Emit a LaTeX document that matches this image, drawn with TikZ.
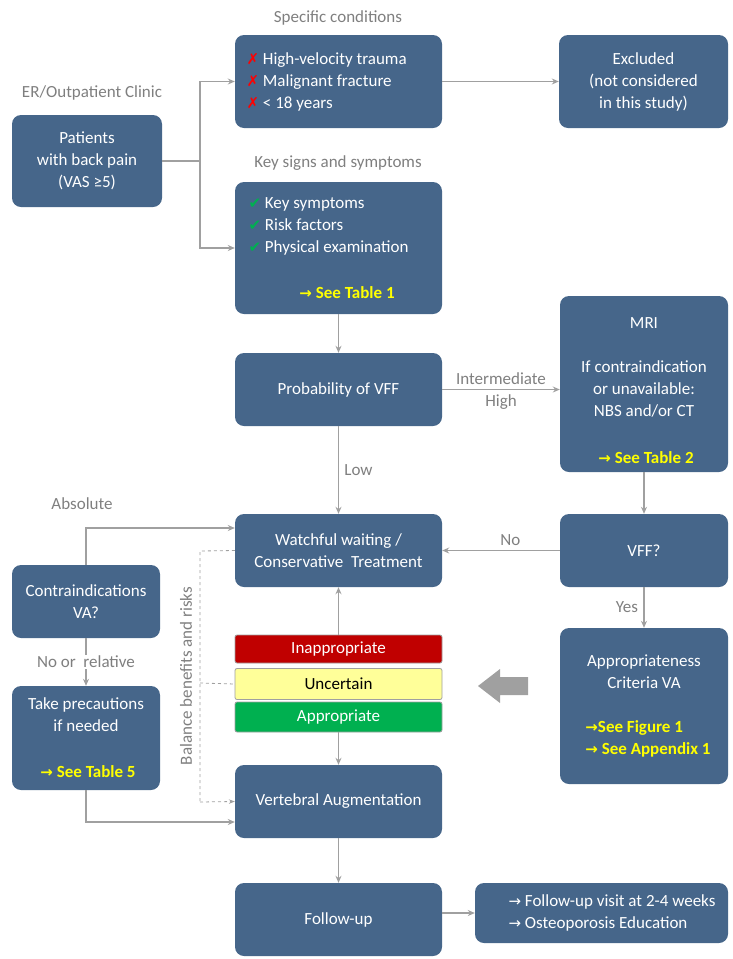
\documentclass[tikz,border=0pt]{standalone}
\usepackage{fontspec}
\setmainfont{Carlito}
\newfontfamily\sym{DejaVu Sans}
\usetikzlibrary{arrows.meta}
\definecolor{bx}{HTML}{46668A}
\definecolor{lc}{HTML}{A0A0A0}
\definecolor{hd}{HTML}{7F7F7F}
\definecolor{yl}{HTML}{FFFF00}
\definecolor{rd}{HTML}{C00000}
\definecolor{gn}{HTML}{00B050}
\definecolor{uy}{HTML}{FFFF99}
\newcommand{\xm}{{\sym\fontsize{15}{15}\selectfont\color{red}✗}}
\newcommand{\cm}{{\sym\fontsize{15}{15}\selectfont\color{gn}✔}}
\newcommand{\ya}{{\sym\fontsize{15}{15}\selectfont\color{yl}→}}
\newcommand{\wa}{{\sym\fontsize{15}{15}\selectfont →}}
\begin{document}
\begin{tikzpicture}[x=1pt,y=-1pt,
  fs/.style={font=\fontsize{17}{22}\selectfont},
  yt/.style={text=yl,font=\bfseries\fontsize{17}{22}\selectfont},
  box/.style={fs,draw=none,fill=bx,rounded corners=9pt,text=white,align=center,inner sep=0pt},
  hds/.style={fs,text=hd},
  lb/.style={fs,text=hd},
  ar/.style={draw=lc,line width=1.2pt,-{Stealth[length=7pt,width=6pt]}},
  pl/.style={draw=lc,line width=1.2pt},
  bar/.style={fs,draw=lc,line width=0.8pt,rounded corners=2pt,minimum width=207pt,inner sep=0pt}]
\useasboundingbox (0,0) rectangle (732,959);
\node[box,minimum width=150,minimum height=92] (pat) at (87,161) {Patients\\with back pain\\(VAS ≥5)};
\node[box,minimum width=207,minimum height=93] (spec) at (338.5,81.5) {};
\node[fs,white,align=left,anchor=west] (spect) at (243,81.5) {\xm\ High-velocity trauma\\\xm\ Malignant fracture\\\xm\ {<} 18 years};
\node[box,minimum width=169,minimum height=93] (exc) at (643.5,81.5) {Excluded\\(not considered\\in this study)};
\node[box,minimum width=207,minimum height=132] (key) at (338.5,248) {};
\node[fs,white,align=left,anchor=west] (keyt) at (245,226) {\cm\ Key symptoms\\\cm\ Risk factors\\\cm\ Physical examination};
\node[yt] (t1) at (347,293) {\ya\ See Table 1};
\node[box,minimum width=207,minimum height=73] (prob) at (338.5,389.5) {Probability of VFF};
\node[box,minimum width=168,minimum height=176] (mri) at (644,384) {};
\node[fs,white,align=center] (mrit) at (644,367) {MRI\\[22pt]If contraindication\\or unavailable:\\NBS and/or CT};
\node[yt] (t2) at (646,458) {\ya\ See Table 2};
\node[box,minimum width=207,minimum height=73] (ww) at (338.5,550.5) {Watchful waiting /\\Conservative\ \ Treatment};
\node[box,minimum width=168,minimum height=73] (vff) at (644,550.5) {VFF?};
\node[box,minimum width=148,minimum height=73] (ci) at (86,601.5) {Contraindications\\VA?};
\node[box,minimum width=148,minimum height=104] (tp) at (86,738) {};
\node[fs,white,align=center] (tpt) at (86,715) {Take precautions\\if needed};
\node[yt] (t5) at (88,772) {\ya\ See Table 5};
\node[bar,fill=rd,text=white,minimum height=28] (inap) at (338.5,649) {Inappropriate};
\node[bar,fill=uy,text=black,minimum height=31] (unc) at (338.5,684) {Uncertain};
\node[bar,fill=gn,text=white,minimum height=30] (app) at (338.5,717) {Appropriate};
\node[box,minimum width=207,minimum height=73] (va) at (338.5,801.5) {Vertebral Augmentation};
\node[box,minimum width=168,minimum height=156] (ac) at (644,706) {};
\node[fs,white,align=center] (act) at (644,672) {Appropriateness\\Criteria VA};
\node[yt,align=left] (tf) at (648,739) {\ya See Figure 1\\\ya\ See Appendix 1};
\node[box,minimum width=207,minimum height=73] (fu) at (338.5,919.5) {Follow-up};
\node[box,minimum width=253,minimum height=60] (fv) at (601.5,913) {};
\node[fs,white,align=left] (fvt) at (612,913) {\wa\ Follow-up visit at 2-4 weeks\\\wa\ Osteoporosis Education};
% headings
\node[hds] (h1) at (338,18) {Specific conditions};
\node[hds] (h2) at (338,163) {Key signs and symptoms};
\node[hds] (h3) at (92,93) {ER/Outpatient Clinic};
% connectors
\coordinate (j1) at (200,161);
\draw[pl] (pat.east) -- (j1);
\draw[ar] (j1) |- (spec.west);
\draw[ar] (j1) |- (key.west);
\draw[ar] (spec.east) -- (exc.west);
\draw[ar] (key.south) -- (prob.north);
\draw[ar] (prob.east) -- node[lb,above=1pt]{Intermediate} node[lb,below=1pt]{High} (prob.east-|mri.west);
\draw[ar] (prob.south) -- node[lb,right=2pt,pos=0.5]{Low} (ww.north);
\draw[ar] (mri.south) -- (vff.north);
\draw[ar] (vff.west) -- node[lb,above=1pt,pos=0.42]{No} (ww.east);
\draw[ar] (vff.south) -- node[lb,left=2pt]{Yes} (ac.north);
\draw[ar] (inap.north) -- (ww.south);
\draw[ar] (app.south) -- (va.north);
\draw[ar] (va.south) -- (fu.north);
\draw[ar] (fu.east|-fv.west) -- (fv.west);
\coordinate (c1) at (86,528);
\draw[ar] (ci.north) -- (c1) -- (c1-|ww.west);
\node[lb] (abs) at (82,504) {Absolute};
\draw[ar] (ci.south) -- node[lb,fill=white,inner sep=1pt]{No or\ \ relative} (tp.north);
\coordinate (c2) at (86,822);
\draw[ar] (tp.south) -- (c2) -- (c2-|va.west);
\coordinate (d1) at (200,551);
\coordinate (d2) at (200,802);
\draw[draw=lc,dashed,line width=0.8pt] (ww.west) -- (d1) -- (d2);
\draw[draw=lc,dashed,line width=0.8pt,-{Stealth[length=6pt]}] (d2) -- (va.west);
\draw[draw=lc,dashed,line width=0.8pt] (200,683) -- (unc.west);
\node[lb,rotate=90] (bal) at (186,676) {Balance benefits and risks};
\fill[fill=lc] (478,686) -- (500,669) -- (500,677) -- (528,677) -- (528,695) -- (500,695) -- (500,703) -- cycle;
\end{tikzpicture}
\end{document}
